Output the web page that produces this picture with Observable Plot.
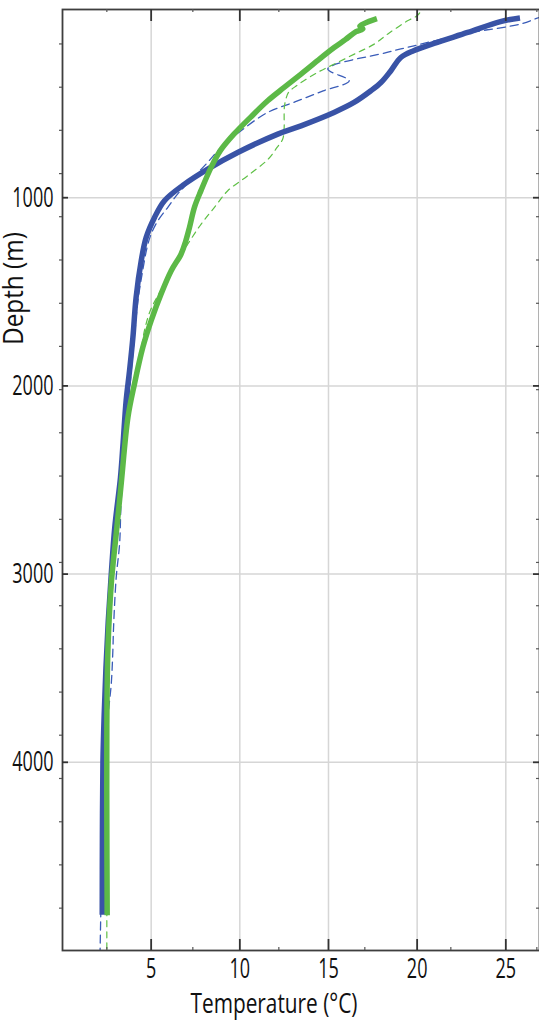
<!DOCTYPE html>
<html><head><meta charset="utf-8">
<script src="https://cdn.jsdelivr.net/npm/d3@7"></script>
<script src="https://cdn.jsdelivr.net/npm/@observablehq/plot@0.6"></script>
<style>body{margin:0;background:#fff;} svg{display:block}</style>
</head><body><div id="chart"></div>
<script>
// Blue solid profile
const blueSolidDepth = [45, 64, 122, 180, 219, 255, 325, 388, 432, 494, 547, 618, 662, 760, 848, 928, 1016, 1105, 1211, 1335, 1530, 1743, 1920, 2078, 2300, 2487, 2750, 3000, 3250, 3500, 3750, 4000, 4400, 4810];
const blueSolidTemp  = [25.8, 24.7, 22.85, 20.95, 19.8, 19.08, 18.52, 17.96, 17.39, 16.44, 15.31, 13.45, 12.14, 9.88, 8.19, 6.88, 5.75, 5.19, 4.72, 4.44, 4.15, 3.97, 3.78, 3.59, 3.42, 3.27, 2.95, 2.75, 2.58, 2.45, 2.35, 2.28, 2.25, 2.24];
// Green solid profile
const greenSolidDepth = [49, 89, 103, 118, 160, 202, 270, 343, 414, 485, 573, 661, 750, 839, 960, 1051, 1158, 1230, 1299, 1388, 1511, 1653, 1795, 1989, 2167, 2520, 2786, 3051, 3406, 3800, 4300, 4813];
const greenSolidTemp  = [17.73, 16.77, 16.94, 16.55, 15.95, 15.32, 14.4, 13.45, 12.5, 11.57, 10.6, 9.68, 8.9, 8.38, 7.82, 7.44, 7.16, 6.95, 6.69, 6.13, 5.56, 5.0, 4.53, 4.06, 3.69, 3.31, 3.03, 2.75, 2.56, 2.5, 2.5, 2.52];
// Blue dashed profile
const blueDashDepth = [25, 42, 77, 126, 193, 228, 316, 379, 432, 490, 547, 644, 733, 812, 900, 980, 1051, 1122, 1193, 1264, 1400, 1550, 1750, 1950, 2149, 2396, 2609, 2839, 3016, 3282, 3406, 3583, 3760, 4000, 4400, 4800, 5000];
const blueDashTemp  = [27.8, 26.92, 25.84, 22.84, 19.82, 18.3, 14.96, 16.17, 14.7, 13.14, 11.57, 10.07, 8.94, 8.19, 7.3, 6.5, 5.94, 5.38, 5.0, 4.77, 4.5, 4.25, 4.05, 3.85, 3.69, 3.5, 3.31, 3.22, 3.03, 2.88, 2.84, 2.75, 2.56, 2.42, 2.25, 2.16, 2.12];
// Green dashed profile
const greenDashDepth = [-20, 0, 33, 60, 131, 184, 237, 290, 334, 405, 440, 476, 521, 580, 627, 688, 733, 795, 883, 963, 1051, 1140, 1246, 1335, 1400, 1500, 1600, 1707, 1800, 2000, 2200, 2500, 2800, 3100, 3400, 3800, 4300, 5000];
const greenDashTemp  = [20.6, 20.3, 20.0, 19.46, 18.33, 17.58, 16.46, 15.33, 14.39, 13.2, 12.75, 12.6, 12.51, 12.5, 12.5, 12.42, 12.1, 11.6, 10.45, 9.32, 8.57, 7.82, 7.07, 6.5, 6.1, 5.5, 4.95, 4.62, 4.45, 4.05, 3.68, 3.32, 3.03, 2.75, 2.58, 2.5, 2.5, 2.5];

const xMajorTicks = [5, 10, 15, 20, 25];
const xMinorTicks = [2.5, 7.35, 12.2, 17.05, 21.9, 26.75];
const yMajorTicks = [1000, 2000, 3000, 4000];
const yMinorTicks = [183, 413, 642, 872, 1101, 1331, 1561, 1790, 2020, 2249, 2479, 2709, 2938, 3168, 3397, 3627, 3856, 4086, 4316, 4545, 4775];
const xLabel = "Temperature (°C)";
const yLabel = "Depth (m)";

const rows = (D, T) => D.map((d, i) => ({depth: d, temp: T[i]}));

const W = 539, H = 1026, mL = 62, mT = 9, mR = 0, mB = 76;
const plotW = W - mL - mR, plotH = H - mT - mB;
const font = "Open Sans, Noto Sans, sans-serif";

const chart = Plot.plot({
  width: W, height: H,
  marginLeft: mL, marginTop: mT, marginRight: mR, marginBottom: mB,
  style: {fontFamily: font, background: "#fff", color: "#111"},
  x: {domain: [0, 26.9], axis: null},
  y: {domain: [0, 5000], reverse: true, axis: null},
  marks: [
    Plot.gridX(xMajorTicks, {stroke: "#d6d6d6", strokeOpacity: 1, strokeWidth: 1.5}),
    Plot.gridY(yMajorTicks, {stroke: "#d6d6d6", strokeOpacity: 1, strokeWidth: 1.5}),
    Plot.line(rows(blueDashDepth, blueDashTemp), {x: "temp", y: "depth", stroke: "#3a5cb8", strokeWidth: 1.3, strokeDasharray: "8,5", curve: "catmull-rom", clip: true}),
    Plot.line(rows(greenDashDepth, greenDashTemp), {x: "temp", y: "depth", stroke: "#5fc046", strokeWidth: 1.2, strokeDasharray: "6,5", curve: "catmull-rom", clip: true}),
    Plot.line(rows(blueSolidDepth, blueSolidTemp), {x: "temp", y: "depth", stroke: "#3953a6", strokeWidth: 5.5, curve: "catmull-rom", strokeLinecap: "butt"}),
    Plot.line(rows(greenSolidDepth, greenSolidTemp), {x: "temp", y: "depth", stroke: "#5cb947", strokeWidth: 5.5, curve: "catmull-rom", strokeLinecap: "butt"}),
    Plot.frame({stroke: "#3e3e3e", strokeWidth: 1.8}),
    // major x ticks, inward top and bottom
    Plot.ruleX(xMajorTicks, {stroke: "#333", strokeWidth: 1.8, insetBottom: plotH - 12}),
    Plot.ruleX(xMajorTicks, {stroke: "#333", strokeWidth: 1.8, insetTop: plotH - 11}),
    // minor x ticks
    Plot.ruleX(xMinorTicks, {stroke: "#555", strokeWidth: 1.2, insetBottom: plotH - 3}),
    Plot.ruleX(xMinorTicks, {stroke: "#555", strokeWidth: 1.2, insetTop: plotH - 3}),
    // major y ticks
    Plot.ruleY(yMajorTicks, {stroke: "#333", strokeWidth: 1.8, insetRight: plotW - 6}),
    Plot.ruleY(yMajorTicks, {stroke: "#333", strokeWidth: 1.8, insetLeft: plotW - 6}),
    // minor y ticks
    Plot.ruleY(yMinorTicks, {stroke: "#555", strokeWidth: 1.2, insetLeft: -3, insetRight: plotW}),
    Plot.ruleY(yMinorTicks, {stroke: "#555", strokeWidth: 1.2, insetLeft: plotW - 3}),
    // tick labels
    Plot.text(xMajorTicks, {x: d => d, frameAnchor: "bottom", dy: 19, text: d => String(d), fontSize: 28, lineAnchor: "middle", fill: "#111"}),
    Plot.text(yMajorTicks, {y: d => d, frameAnchor: "left", dx: -9, text: d => String(d), textAnchor: "end", fontSize: 28, lineAnchor: "middle", fill: "#111"}),
    // axis titles
    Plot.text([xLabel], {frameAnchor: "bottom", dx: -27, dy: 54, text: d => d, fontSize: 28, lineAnchor: "middle", fill: "#111"}),
    Plot.text([yLabel], {frameAnchor: "left", dx: -48, dy: -135, rotate: -90, textAnchor: "start", text: d => d, fontSize: 28, lineAnchor: "middle", fill: "#111"})
  ]
});

document.getElementById("chart").append(chart);

// condense the text horizontally as in the reference
d3.select(chart).selectAll("text").each(function() {
  const t = this.textContent;
  let L;
  if (t === xLabel) L = 167;
  else if (t === yLabel) L = 113;
  else L = 10.3 * t.length;
  d3.select(this).attr("textLength", L).attr("lengthAdjust", "spacingAndGlyphs");
});
</script>
</body></html>
